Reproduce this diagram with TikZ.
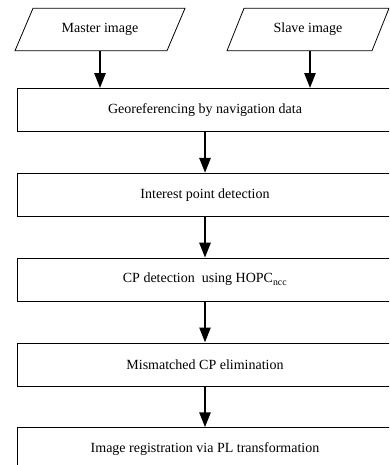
\documentclass[tikz,border=0pt]{standalone}
\usepackage{fontspec}
\setmainfont{Liberation Serif}
\usepackage{tikz}
\usetikzlibrary{arrows.meta, positioning}
\tikzset{
  >=Triangle,
  procbox/.style={draw, line width=0.8pt, rectangle, minimum width=376pt, minimum height=43pt, inner sep=0pt, font=\fontsize{14}{16}\selectfont},
  datatext/.style={rectangle, minimum height=42pt, inner sep=0pt, font=\fontsize{14}{16}\selectfont},
  dataedge/.style={draw, line width=0.8pt, line join=miter},
  flowarrow/.style={-{Triangle[length=15pt, width=11pt]}, line width=2.6pt, black}
}
\begin{document}
\begin{tikzpicture}[x=1pt, y=-1pt]
    \useasboundingbox (0,0) rectangle (389,465);
    \clip (0,0) rectangle (389,465);
    % input images
    \node (master) [datatext] at (100,29.5) {Master image};
    \node (slave) [datatext] at (308,29.5) {Slave image};
    \path[dataedge] ([xshift=-67pt]master.north) -- ([xshift=85pt]master.north)
        -- ([xshift=67pt]master.south) -- ([xshift=-85pt]master.south) -- cycle;
    \path[dataedge] ([xshift=-64pt]slave.north) -- ([xshift=81pt]slave.north)
        -- ([xshift=64pt]slave.south) -- ([xshift=-81pt]slave.south) -- cycle;
    % processing chain
    \node (georef) [procbox] at (205,110) {Georeferencing by navigation data};
    \node (interest) [procbox, below=41pt of georef] {Interest point detection};
    \node (cpdet) [procbox, below=41pt of interest] {CP detection\ \ using HOPC\textsubscript{ncc}};
    \node (mismatch) [procbox, below=41pt of cpdet] {Mismatched CP elimination};
    \node (registr) [procbox, below=41pt of mismatch] {Image registration via PL transformation};
    \draw[flowarrow] (master.south) -- (master.south |- georef.north);
    \draw[flowarrow] ([xshift=2pt]slave.south) -- ([xshift=2pt]slave.south |- georef.north);
    \draw[flowarrow] (georef) -- (interest);
    \draw[flowarrow] (interest) -- (cpdet);
    \draw[flowarrow] (cpdet) -- (mismatch);
    \draw[flowarrow] (mismatch) -- (registr);
\end{tikzpicture}
\end{document}
